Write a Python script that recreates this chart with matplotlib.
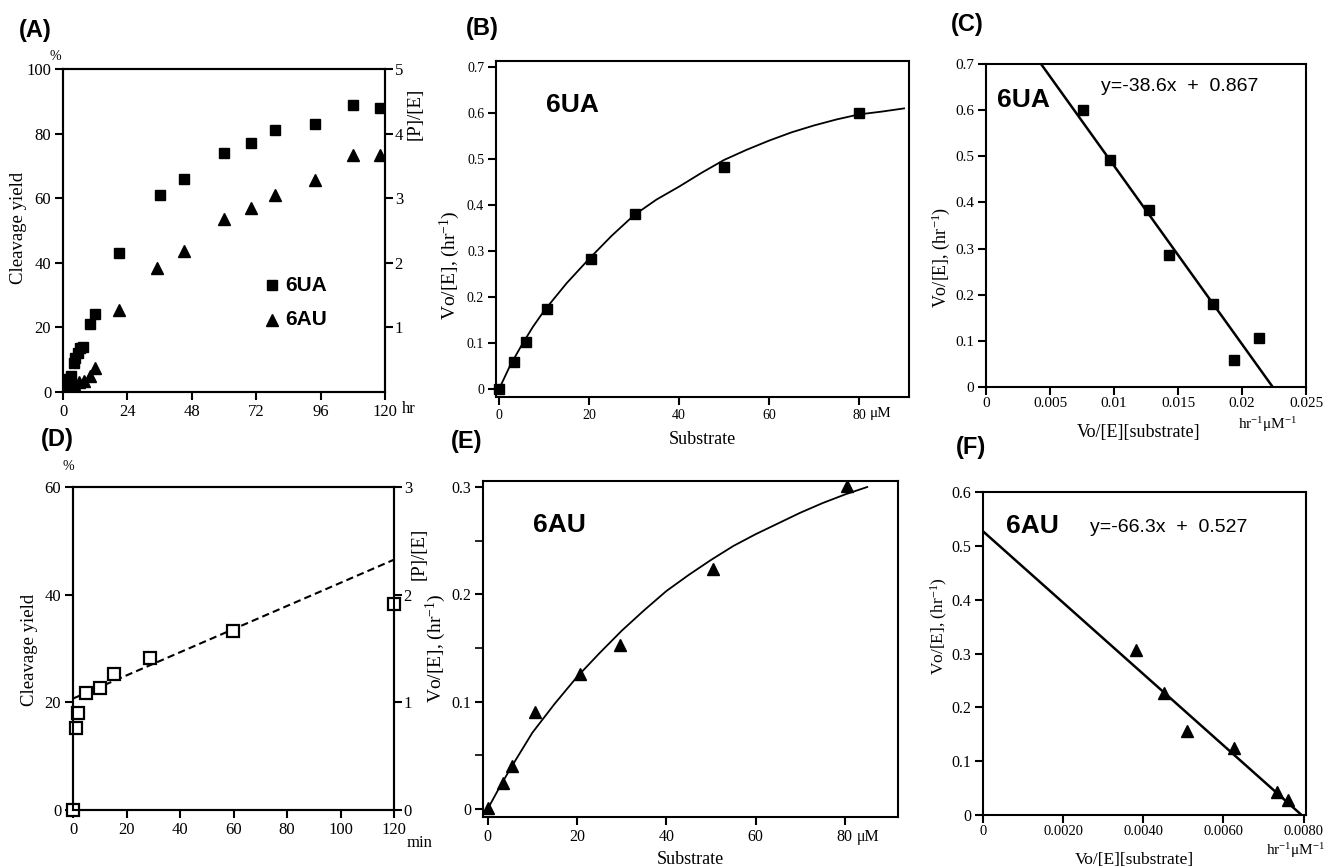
import matplotlib

matplotlib.use("Agg")
import matplotlib.pyplot as plt

# (A) cleavage time course, hr vs %
a_time_6ua = [0.5, 1, 2, 3, 4, 4.5, 5.5, 6.5, 7.5, 10, 12, 21, 36, 45, 60, 70, 79, 94, 108, 118]
a_yield_6ua = [0.5, 2, 4, 5, 9, 10.5, 12, 13.5, 14, 21, 24, 43, 61, 66, 74, 77, 81, 83, 89, 88]
a_time_6au = [0.5, 2, 4, 6, 8, 10, 12, 21, 35, 45, 60, 70, 79, 94, 108, 118]
a_yield_6au = [0.5, 1.5, 2.5, 3.2, 3.5, 5, 7.5, 25.5, 38.5, 43.5, 53.5, 57, 61, 65.5, 73.5, 73.5]

# (B) 6UA rate vs substrate, with fitted curve
b_substrate = [0, 3.3, 5.9, 10.6, 20.4, 30.3, 50.1, 80]
b_rate = [0, 0.059, 0.102, 0.174, 0.283, 0.380, 0.483, 0.599]
b_curve_s = [0, 2.5, 5, 7.5, 10, 15, 20, 25, 30, 35, 40, 45, 50, 55, 60, 65, 70, 75, 80, 85, 90]
b_curve_v = [0, 0.052, 0.095, 0.135, 0.170, 0.230, 0.283, 0.333, 0.378, 0.412, 0.440,
             0.470, 0.498, 0.520, 0.540, 0.558, 0.573, 0.586, 0.597, 0.603, 0.610]

# (C) 6UA Eadie-Hofstee
c_x = [0.0076, 0.0097, 0.0127, 0.0143, 0.0177, 0.0194, 0.0213]
c_y = [0.600, 0.491, 0.384, 0.287, 0.180, 0.059, 0.106]
c_fit_x = [0.0043, 0.0224]
c_fit_y = [0.70, 0.0]

# (D) early time course, min vs %
d_time = [0, 1.2, 1.9, 5, 10.2, 15.4, 28.6, 59.8, 120]
d_yield = [0, 15.2, 18.1, 21.8, 22.6, 25.2, 28.2, 33.2, 38.3]
d_fit_t = [0, 120]
d_fit_y = [20.7, 46.5]

# (E) 6AU rate vs substrate
e_substrate = [0, 3.4, 5.4, 10.6, 20.7, 29.6, 50.4, 80.4]
e_rate = [0.001, 0.024, 0.040, 0.090, 0.126, 0.153, 0.224, 0.301]
e_curve_s = [0, 2.5, 5, 7.5, 10, 15, 20, 25, 30, 35, 40, 45, 50, 55, 60, 65, 70, 75, 80, 85]
e_curve_v = [0, 0.019, 0.037, 0.054, 0.071, 0.098, 0.123, 0.145, 0.166, 0.185, 0.203,
             0.218, 0.232, 0.245, 0.256, 0.266, 0.276, 0.285, 0.293, 0.300]

# (F) 6AU Eadie-Hofstee
f_x = [0.00381, 0.00452, 0.00508, 0.00627, 0.00733, 0.00761]
f_y = [0.306, 0.226, 0.156, 0.124, 0.043, 0.027]
f_fit_x = [0, 0.00795]
f_fit_y = [0.527, 0.0]

plt.rcParams.update({
    "font.family": "Liberation Serif",
    "mathtext.fontset": "custom",
    "mathtext.rm": "Liberation Serif",
    "mathtext.it": "Liberation Serif:italic",
    "mathtext.bf": "Liberation Serif:bold",
    "axes.linewidth": 1.5,
})

W, H = 1337, 867
fig = plt.figure(figsize=(W / 100, H / 100), dpi=100)

SANS = "Liberation Sans"
VLABEL = "Vo/[E], (hr$^{-1}$)"
HRUM = "hr$^{-1}$\u03bcM$^{-1}$"


def rect(x0, y0, x1, y1):
    return [x0 / W, 1 - y1 / H, (x1 - x0) / W, (y1 - y0) / H]


def ftext(x, y, s, **kw):
    kw.setdefault("ha", "center")
    kw.setdefault("va", "center")
    fig.text(x / W, 1 - y / H, s, **kw)


def style(ax, size, pad=3):
    ax.tick_params(direction="out", length=5.5, width=1.5, labelsize=size, pad=pad)
    ax.tick_params(which="minor", direction="out", length=5.5, width=1.2)


# ---- (A)
ax = fig.add_axes(rect(63, 69, 385, 392))
ax.plot(a_time_6ua, a_yield_6ua, "s", color="black", ms=7.5, ls="none")
ax.plot(a_time_6au, a_yield_6au, "^", color="black", ms=8, ls="none")
ax.set_xlim(0, 120)
ax.set_ylim(0, 100)
ax.set_xticks([0, 24, 48, 72, 96, 120])
ax.set_yticks([0, 20, 40, 60, 80, 100])
style(ax, 12)
ax2 = ax.twinx()
ax2.set_ylim(0, 5)
ax2.set_yticks([1, 2, 3, 4, 5])
style(ax2, 12, pad=1.5)
ax.plot([0.649], [0.331], "s", color="black", ms=7.5, transform=ax.transAxes)
ax.plot([0.649], [0.223], "^", color="black", ms=8, transform=ax.transAxes)
ax.text(0.69, 0.331, "6UA", transform=ax.transAxes, family=SANS, weight="bold",
        fontsize=15, va="center")
ax.text(0.69, 0.223, "6AU", transform=ax.transAxes, family=SANS, weight="bold",
        fontsize=15, va="center")
ftext(19, 228, "Cleavage yield", rotation=90, fontsize=13.5)
ftext(415, 114, "[P]/[E]", rotation=90, fontsize=13.5)
ftext(55, 57, "%", fontsize=10)
ftext(409, 409, "hr", fontsize=12)
ftext(35, 30, "(A)", family=SANS, weight="bold", fontsize=17)

# ---- (B)
ax = fig.add_axes(rect(496, 61, 909, 397))
ax.plot(b_curve_s, b_curve_v, color="black", lw=1.3)
ax.plot(b_substrate, b_rate, "s", color="black", ms=7.5, ls="none", clip_on=False)
ax.set_xlim(-0.67, 91.1)
ax.set_ylim(-0.017, 0.713)
ax.set_xticks([0, 20, 40, 60, 80])
ax.set_yticks([0, 0.1, 0.2, 0.3, 0.4, 0.5, 0.6, 0.7])
ax.set_yticklabels(["0", "0.1", "0.2", "0.3", "0.4", "0.5", "0.6", "0.7"])
style(ax, 10)
ax.text(0.12, 0.87, "6UA", transform=ax.transAxes, family=SANS, weight="bold",
        fontsize=19, va="center")
ftext(450, 265, VLABEL, rotation=90, fontsize=14)
ftext(702, 440, "Substrate", fontsize=13)
ftext(881, 414, "\u03bcM", fontsize=11)
ftext(482, 28, "(B)", family=SANS, weight="bold", fontsize=17)

# ---- (C)
ax = fig.add_axes(rect(986, 64, 1306, 387))
ax.plot(c_fit_x, c_fit_y, color="black", lw=1.8)
ax.plot(c_x, c_y, "s", color="black", ms=7.5, ls="none")
ax.set_xlim(0, 0.025)
ax.set_ylim(0, 0.7)
ax.set_xticks([0, 0.005, 0.01, 0.015, 0.02, 0.025])
ax.set_xticklabels(["0", "0.005", "0.01", "0.015", "0.02", "0.025"])
ax.set_yticks([0, 0.1, 0.2, 0.3, 0.4, 0.5, 0.6, 0.7])
ax.set_yticklabels(["0", "0.1", "0.2", "0.3", "0.4", "0.5", "0.6", "0.7"])
style(ax, 11)
ax.tick_params(axis="x", pad=2)
ax.text(0.035, 0.89, "6UA", transform=ax.transAxes, family=SANS, weight="bold",
        fontsize=19, va="center")
ax.text(0.36, 0.93, "y=-38.6x  +  0.867", transform=ax.transAxes, family=SANS,
        fontsize=14, va="center")
ftext(941, 257, VLABEL, rotation=90, fontsize=13)
ftext(1139, 433, "Vo/[E][substrate]", fontsize=13)
ftext(1268, 425, HRUM, fontsize=11)
ftext(967, 25, "(C)", family=SANS, weight="bold", fontsize=17)

# ---- (D)
ax = fig.add_axes(rect(73, 487, 394, 810))
ax.plot(d_fit_t, d_fit_y, color="black", lw=1.5, dashes=(3.5, 2))
ax.plot(d_time, d_yield, "s", color="black", mfc="white", mew=1.6, ms=8,
        ls="none", clip_on=False, zorder=5)
ax.set_xlim(0, 120)
ax.set_ylim(0, 60)
ax.set_xticks([0, 20, 40, 60, 80, 100, 120])
ax.set_yticks([0, 20, 40, 60])
style(ax, 12)
ax2 = ax.twinx()
ax2.set_ylim(0, 3)
ax2.set_yticks([0, 1, 2, 3])
style(ax2, 12, pad=1.5)
ftext(29, 650, "Cleavage yield", rotation=90, fontsize=13.5)
ftext(419, 554, "[P]/[E]", rotation=90, fontsize=13.5)
ftext(68, 467, "%", fontsize=10)
ftext(420, 843, "min", fontsize=12)
ftext(57, 440, "(D)", family=SANS, weight="bold", fontsize=17)

# ---- (E)
ax = fig.add_axes(rect(483, 481, 898, 817))
ax.plot(e_curve_s, e_curve_v, color="black", lw=1.3)
ax.plot(e_substrate, e_rate, "^", color="black", ms=8.5, ls="none", clip_on=False)
ax.set_xlim(-1.05, 91.9)
ax.set_ylim(-0.0075, 0.3056)
ax.set_xticks([0, 20, 40, 60, 80])
ax.set_yticks([0, 0.1, 0.2, 0.3])
ax.set_yticklabels(["0", "0.1", "0.2", "0.3"])
ax.set_yticks([0.05, 0.15, 0.25], minor=True)
style(ax, 11.5)
ax.text(0.12, 0.87, "6AU", transform=ax.transAxes, family=SANS, weight="bold",
        fontsize=19, va="center")
ftext(436, 648, VLABEL, rotation=90, fontsize=14)
ftext(690, 859, "Substrate", fontsize=13)
ftext(868, 837, "\u03bcM", fontsize=11.5)
ftext(467, 442, "(E)", family=SANS, weight="bold", fontsize=17)

# ---- (F)
ax = fig.add_axes(rect(983, 492, 1306, 815))
ax.plot(f_fit_x, f_fit_y, color="black", lw=1.8)
ax.plot(f_x, f_y, "^", color="black", ms=8.5, ls="none")
ax.set_xlim(0, 0.00806)
ax.set_ylim(0, 0.6)
ax.set_xticks([0, 0.002, 0.004, 0.006, 0.008])
ax.set_xticklabels(["0", "0.0020", "0.0040", "0.0060", "0.0080"])
ax.set_yticks([0, 0.1, 0.2, 0.3, 0.4, 0.5, 0.6])
ax.set_yticklabels(["0", "0.1", "0.2", "0.3", "0.4", "0.5", "0.6"])
style(ax, 11.5)
ax.tick_params(axis="x", labelsize=10.5, pad=2)
ax.text(0.07, 0.895, "6AU", transform=ax.transAxes, family=SANS, weight="bold",
        fontsize=19, va="center")
ax.text(0.33, 0.89, "y=-66.3x  +  0.527", transform=ax.transAxes, family=SANS,
        fontsize=14, va="center")
ftext(939, 626, VLABEL, rotation=90, fontsize=12.5)
ftext(1134, 860, "Vo/[E][substrate]", fontsize=12.5)
ftext(1296, 851, HRUM, fontsize=11)
ftext(971, 448, "(F)", family=SANS, weight="bold", fontsize=17)

fig.savefig("out.png", dpi=100)
